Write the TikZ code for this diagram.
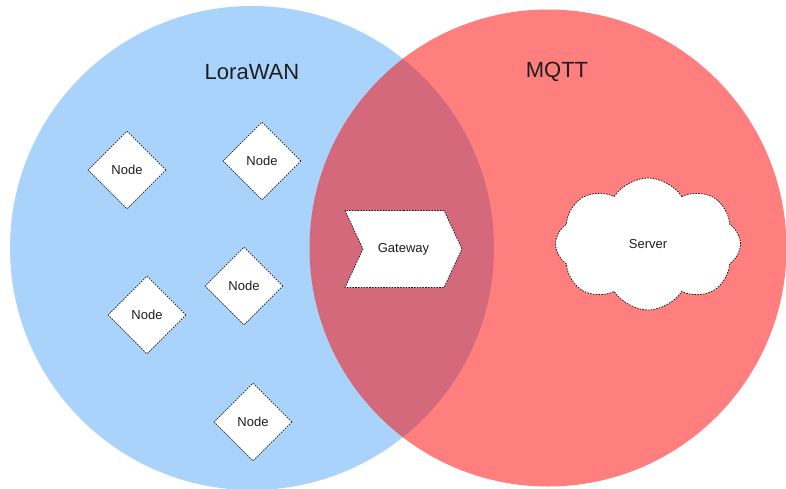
\documentclass[tikz,border=0pt]{standalone}
\usepackage{fontspec}
\setmainfont{Liberation Sans}
\usetikzlibrary{shapes.geometric,shapes.symbols}
\definecolor{LoraBlue}{RGB}{169,211,250}
\definecolor{MqttRed}{RGB}{255,0,0}
\definecolor{InkGray}{RGB}{30,30,30}
\tikzset{
  zone/.style={circle,inner sep=0pt,draw=none},
  title/.style={text=InkGray,font=\fontsize{22}{26}\selectfont},
  dashline/.style={draw=InkGray,line width=0.8pt,dash pattern=on 1.6pt off 1.2pt},
  dev/.style={diamond,dashline,fill=white,minimum width=78pt,minimum height=78pt,
    inner sep=0pt,text=InkGray,font=\fontsize{13}{15}\selectfont},
  gate/.style={signal,signal to=east,signal from=west,signal pointer angle=130,
    dashline,fill=white,minimum width=117pt,minimum height=77pt,inner sep=0pt,
    text=InkGray,font=\fontsize{13}{15}\selectfont},
  srv/.style={cloud,cloud puffs=8,cloud puff arc=115,aspect=1.4,dashline,fill=white,
    minimum width=185pt,minimum height=132pt,inner sep=0pt,
    text=InkGray,font=\fontsize{13}{15}\selectfont},
}

\begin{document}
\begin{tikzpicture}[x=1pt,y=-1pt]
  \useasboundingbox (0,0) rectangle (786,489);
  % the two networks
  \node[zone,fill=LoraBlue,minimum size=484pt] (lora) at (252,248) {};
  \node[zone,fill=MqttRed,fill opacity=0.5,minimum size=477pt] (mqtt) at (548,248) {};
  \node[title] (lora-title) at (252,72) {LoraWAN};
  \node[title] (mqtt-title) at (557,72) {MQTT};
  % end devices
  \foreach \n/\x/\y in {a/127/170,b/262/161,c/244/286,d/147/315,e/253/422}
    \node[dev] (node-\n) at (\x,\y) {Node};
  % gateway and server
  \node[gate] (gw) at (403.5,249) {Gateway};
  \node[srv] (server) at (648,244) {Server};
\end{tikzpicture}
\end{document}
